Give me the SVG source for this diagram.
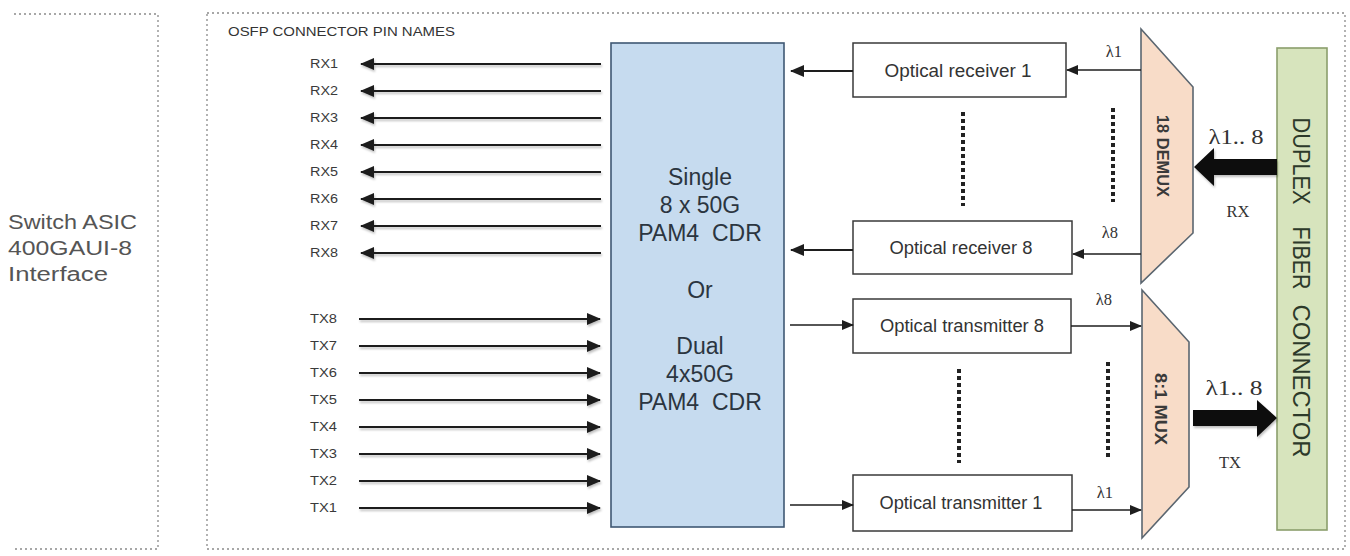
<svg xmlns="http://www.w3.org/2000/svg" width="1350" height="556" viewBox="0 0 1350 556">
<style>
.dot{fill:none;stroke:#8a8a8a;stroke-width:1.3;stroke-dasharray:2 3}
.pin{font-family:"Liberation Sans",Arial,sans-serif;font-size:12.5px;fill:#3a3a3a}
.ln{stroke:#1e1e1e;stroke-width:2;fill:none}
.lnt{stroke:#1e1e1e;stroke-width:1.6;fill:none}
.box{fill:#ffffff;stroke:#3a3a3a;stroke-width:1.5}
.bt{font-family:"Liberation Sans",Arial,sans-serif;font-size:17.5px;fill:#333;text-anchor:middle}
.cdr{font-family:"Liberation Sans",Arial,sans-serif;font-size:23px;fill:#2b3540;text-anchor:middle}
.trap{fill:#f8dcc8;stroke:#5b6670;stroke-width:1.6}
.mx{font-family:"Liberation Sans",Arial,sans-serif;font-weight:bold;font-size:17px;fill:#3a3a3a;text-anchor:middle}
.lam{font-family:"Liberation Serif","Times New Roman",serif;font-size:16.5px;fill:#333;text-anchor:middle}
.lamb{font-family:"Liberation Serif","Times New Roman",serif;font-size:20px;fill:#333;text-anchor:middle}
.vdot{stroke:#222;stroke-width:4;stroke-dasharray:4 3;fill:none}
.conn{font-family:"Liberation Sans",Arial,sans-serif;font-size:23px;fill:#2d3a2a;text-anchor:middle}
.asic{font-family:"Liberation Sans",Arial,sans-serif;font-size:19.5px;fill:#555}
</style>
<defs>
<marker id="ah" markerUnits="userSpaceOnUse" markerWidth="14" markerHeight="12" refX="13" refY="6" orient="auto">
<path d="M0,0 L14,6 L0,12 Z" fill="#1e1e1e"/>
</marker>
<marker id="ahs" markerUnits="userSpaceOnUse" markerWidth="12" markerHeight="10" refX="11" refY="5" orient="auto">
<path d="M0,0 L12,5 L0,10 Z" fill="#1e1e1e"/>
</marker>
<filter id="sh" x="-5%" y="-50%" width="110%" height="250%">
<feDropShadow dx="1" dy="2" stdDeviation="1.2" flood-color="#000" flood-opacity="0.25"/>
</filter>
</defs>

<g id="asic">
<path class="dot" d="M14,14 H158 V549 H14"/>
<text class="asic" x="8" y="229" textLength="129" lengthAdjust="spacingAndGlyphs">Switch ASIC</text>
<text class="asic" x="8" y="255" textLength="124" lengthAdjust="spacingAndGlyphs">400GAUI-8</text>
<text class="asic" x="8" y="281" textLength="100" lengthAdjust="spacingAndGlyphs">Interface</text>
</g>

<g id="module">
<rect class="dot" x="207" y="13" width="1138" height="536"/>
<text x="228" y="36" font-family="Liberation Sans,Arial,sans-serif" font-size="13" fill="#333" textLength="227" lengthAdjust="spacingAndGlyphs">OSFP CONNECTOR PIN NAMES</text>
</g>

<g id="pins" class="pin" text-anchor="end">
<text x="338" y="68" textLength="28" lengthAdjust="spacingAndGlyphs">RX1</text>
<text x="338" y="95" textLength="28" lengthAdjust="spacingAndGlyphs">RX2</text>
<text x="338" y="122" textLength="28" lengthAdjust="spacingAndGlyphs">RX3</text>
<text x="338" y="149" textLength="28" lengthAdjust="spacingAndGlyphs">RX4</text>
<text x="338" y="176" textLength="28" lengthAdjust="spacingAndGlyphs">RX5</text>
<text x="338" y="203" textLength="28" lengthAdjust="spacingAndGlyphs">RX6</text>
<text x="338" y="230" textLength="28" lengthAdjust="spacingAndGlyphs">RX7</text>
<text x="338" y="257" textLength="28" lengthAdjust="spacingAndGlyphs">RX8</text>
<text x="337" y="323" textLength="27" lengthAdjust="spacingAndGlyphs">TX8</text>
<text x="337" y="350" textLength="27" lengthAdjust="spacingAndGlyphs">TX7</text>
<text x="337" y="377" textLength="27" lengthAdjust="spacingAndGlyphs">TX6</text>
<text x="337" y="404" textLength="27" lengthAdjust="spacingAndGlyphs">TX5</text>
<text x="337" y="431" textLength="27" lengthAdjust="spacingAndGlyphs">TX4</text>
<text x="337" y="458" textLength="27" lengthAdjust="spacingAndGlyphs">TX3</text>
<text x="337" y="485" textLength="27" lengthAdjust="spacingAndGlyphs">TX2</text>
<text x="337" y="512" textLength="27" lengthAdjust="spacingAndGlyphs">TX1</text>
</g>

<g id="cdr">
<rect x="611" y="43" width="173" height="484" fill="#c6dbef" stroke="#3f5873" stroke-width="1.6"/>
<text class="cdr" x="700" y="185">Single</text>
<text class="cdr" x="700" y="213">8 x 50G</text>
<text class="cdr" x="700" y="241">PAM4&#160; CDR</text>
<text class="cdr" x="700" y="298">Or</text>
<text class="cdr" x="700" y="354">Dual</text>
<text class="cdr" x="700" y="382">4x50G</text>
<text class="cdr" x="700" y="410">PAM4&#160; CDR</text>
</g>

<g id="rx1"><rect class="box" x="853" y="43" width="213" height="54"/><text class="bt" x="958" y="77" textLength="147" lengthAdjust="spacingAndGlyphs">Optical receiver 1</text></g>
<g id="rx8"><rect class="box" x="853" y="221" width="219" height="53"/><text class="bt" x="961" y="254" textLength="143" lengthAdjust="spacingAndGlyphs">Optical receiver 8</text></g>
<g id="tx8"><rect class="box" x="853" y="299" width="218" height="54"/><text class="bt" x="962" y="332" textLength="164" lengthAdjust="spacingAndGlyphs">Optical transmitter 8</text></g>
<g id="tx1"><rect class="box" x="853" y="475" width="219" height="56"/><text class="bt" x="961" y="509" textLength="163" lengthAdjust="spacingAndGlyphs">Optical transmitter 1</text></g>

<g id="demux">
<polygon class="trap" points="1141,29 1193,87 1193,233 1141,283"/>
<text class="mx" transform="translate(1157,156) rotate(90)" textLength="82" lengthAdjust="spacingAndGlyphs">18 DEMUX</text>
</g>
<g id="mux">
<polygon class="trap" points="1142,290 1189,342 1189,487 1142,538"/>
<text class="mx" transform="translate(1155,409) rotate(90)" textLength="72" lengthAdjust="spacingAndGlyphs">8:1 MUX</text>
</g>

<g id="fiber">
<rect x="1277" y="48" width="50" height="482" fill="#d7e4bd" stroke="#8b9e6c" stroke-width="1.6"/>
<text class="conn" transform="translate(1293,161) rotate(90)" textLength="87" lengthAdjust="spacingAndGlyphs">DUPLEX</text>
<text class="conn" transform="translate(1293,258) rotate(90)" textLength="63" lengthAdjust="spacingAndGlyphs">FIBER</text>
<text class="conn" transform="translate(1293,381) rotate(90)" textLength="153" lengthAdjust="spacingAndGlyphs">CONNECTOR</text>
</g>

<g id="connectors">
<g filter="url(#sh)">
<line class="ln" x1="601" y1="64" x2="361" y2="64" marker-end="url(#ah)"/>
<line class="ln" x1="601" y1="91" x2="361" y2="91" marker-end="url(#ah)"/>
<line class="ln" x1="601" y1="118" x2="361" y2="118" marker-end="url(#ah)"/>
<line class="ln" x1="601" y1="145" x2="361" y2="145" marker-end="url(#ah)"/>
<line class="ln" x1="601" y1="172" x2="361" y2="172" marker-end="url(#ah)"/>
<line class="ln" x1="601" y1="199" x2="361" y2="199" marker-end="url(#ah)"/>
<line class="ln" x1="601" y1="226" x2="361" y2="226" marker-end="url(#ah)"/>
<line class="ln" x1="601" y1="253" x2="361" y2="253" marker-end="url(#ah)"/>
<line class="ln" x1="359" y1="319" x2="600" y2="319" marker-end="url(#ah)"/>
<line class="ln" x1="359" y1="346" x2="600" y2="346" marker-end="url(#ah)"/>
<line class="ln" x1="359" y1="373" x2="600" y2="373" marker-end="url(#ah)"/>
<line class="ln" x1="359" y1="400" x2="600" y2="400" marker-end="url(#ah)"/>
<line class="ln" x1="359" y1="427" x2="600" y2="427" marker-end="url(#ah)"/>
<line class="ln" x1="359" y1="454" x2="600" y2="454" marker-end="url(#ah)"/>
<line class="ln" x1="359" y1="481" x2="600" y2="481" marker-end="url(#ah)"/>
<line class="ln" x1="359" y1="508" x2="600" y2="508" marker-end="url(#ah)"/>
</g>
<line class="ln" x1="853" y1="71" x2="791" y2="71" marker-end="url(#ah)"/>
<line class="ln" x1="853" y1="250" x2="791" y2="250" marker-end="url(#ah)"/>
<line class="lnt" x1="790" y1="325" x2="853" y2="325" marker-end="url(#ahs)"/>
<line class="lnt" x1="790" y1="505" x2="853" y2="505" marker-end="url(#ahs)"/>
<line class="lnt" x1="1141" y1="70" x2="1067" y2="70" marker-end="url(#ahs)"/>
<line class="lnt" x1="1141" y1="254" x2="1073" y2="254" marker-end="url(#ahs)"/>
<line class="lnt" x1="1071" y1="326" x2="1141" y2="326" marker-end="url(#ahs)"/>
<line class="lnt" x1="1072" y1="510" x2="1141" y2="510" marker-end="url(#ahs)"/>
<line class="vdot" x1="963" y1="112" x2="963" y2="206"/>
<line class="vdot" x1="1113" y1="108" x2="1113" y2="202"/>
<line class="vdot" x1="959" y1="369" x2="959" y2="463"/>
<line class="vdot" x1="1108" y1="362" x2="1108" y2="457"/>
<g filter="url(#sh)">
<polygon points="1277,159 1214,159 1214,148 1194,167 1214,186 1214,175 1277,175" fill="#111"/>
<polygon points="1193,410 1257,410 1257,400 1277,418 1257,437 1257,426 1193,426" fill="#111"/>
</g>
<text class="lam" x="1114" y="57">λ1</text>
<text class="lam" x="1110" y="238">λ8</text>
<text class="lam" x="1104" y="305">λ8</text>
<text class="lam" x="1105" y="498">λ1</text>
<text class="lamb" x="1236" y="144" textLength="55" lengthAdjust="spacingAndGlyphs">λ1.. 8</text>
<text class="lam" x="1238" y="217">RX</text>
<text class="lamb" x="1234" y="395" textLength="57" lengthAdjust="spacingAndGlyphs">λ1.. 8</text>
<text class="lam" x="1230" y="468">TX</text>
</g>
</svg>
